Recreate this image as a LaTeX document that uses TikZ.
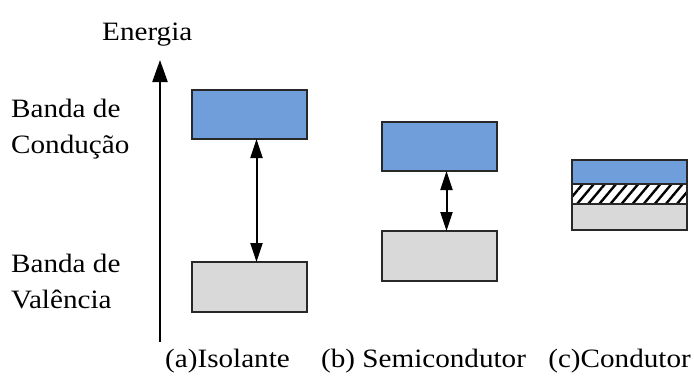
\documentclass[tikz,border=0pt]{standalone}
\usepackage{fontspec}
\setmainfont[FakeStretch=1.1]{Liberation Serif}
\usetikzlibrary{arrows.meta,patterns.meta}
\definecolor{bandblue}{RGB}{112,158,218}
\definecolor{bandgrey}{RGB}{217,217,217}
\definecolor{bandedge}{RGB}{40,40,40}
\tikzset{
  band/.style={draw=bandedge, line width=2.2pt, minimum width=115pt, inner sep=0pt, outer sep=0pt},
  cband/.style={band, fill=bandblue},
  vband/.style={band, fill=bandgrey},
  hband/.style={band, fill=white, pattern={Lines[angle=50,distance=8.5pt,line width=2.4pt]}},
  gap/.style={line width=2pt, {Triangle[length=19pt,width=12pt]}-{Triangle[length=19pt,width=12pt]}},
  axis/.style={line width=2.2pt, -{Triangle[length=22pt,width=15pt]}},
  lbl/.style={inner sep=0pt, font=\fontsize{26.5}{36}\selectfont},
}
\begin{document}
\begin{tikzpicture}[x=1pt, y=-1pt]
  \useasboundingbox (0,0) rectangle (694,376);

  % energy axis
  \coordinate (axb) at (160,342);
  \coordinate (axt) at (160,60);
  \draw[axis] (axb) -- (axt);
  \node[lbl, anchor=base west] (energia) at (102,40) {Energia};

  % band labels
  \node[lbl, anchor=base west] (bc1) at (11,117) {Banda de};
  \node[lbl, anchor=base west] (bc2) at (11,153) {Condução};
  \node[lbl, anchor=base west] (bv1) at (11,272) {Banda de};
  \node[lbl, anchor=base west] (bv2) at (11,308) {Valência};

  % (a) insulator
  \node[cband, minimum height=49pt] (ic) at (249.5,114.5) {};
  \node[vband, minimum height=50pt] (iv) at (249.5,287) {};
  \draw[gap] ([xshift=7pt]ic.south) -- ([xshift=7pt]iv.north);

  % (b) semiconductor
  \node[cband, minimum height=49pt] (sc) at (439.5,146.5) {};
  \node[vband, minimum height=50pt] (sv) at (439.5,256) {};
  \draw[gap] ([xshift=7pt]sc.south) -- ([xshift=7pt]sv.north);

  % (c) conductor: overlapping bands
  \node[cband, minimum height=24pt] (cc) at (629.5,172) {};
  \node[hband, minimum height=20pt] (ch) at (629.5,194) {};
  \node[vband, minimum height=26pt] (cv) at (629.5,217) {};

  % captions
  \node[lbl, anchor=base west] (la) at (165,367) {(a)Isolante};
  \node[lbl, anchor=base west] (lb) at (321,367) {(b) Semicondutor};
  \node[lbl, anchor=base east] (lc) at (691,367) {(c)Condutor};
\end{tikzpicture}
\end{document}
